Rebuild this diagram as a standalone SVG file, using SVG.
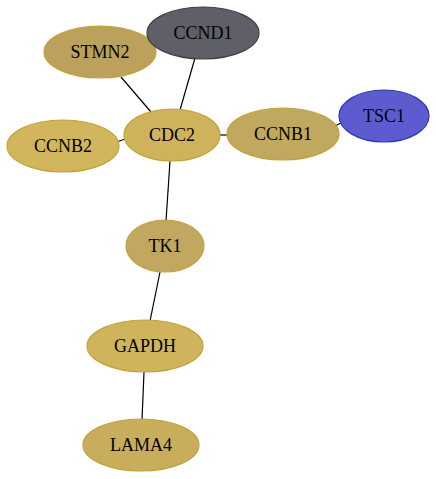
<svg xmlns="http://www.w3.org/2000/svg" width="436" height="479" viewBox="0 0 436 479">
<style>
.e line{stroke:#000;stroke-width:1.2}
.n ellipse{stroke-width:1.2}
.n text{font-family:"Liberation Serif","Times New Roman",serif;font-size:18px;text-anchor:middle;fill:#000}
.g ellipse{stroke:#c2a43a}
</style>
<rect width="436" height="479" fill="#fff"/>
<g id="edges" class="e">
<line x1="121" y1="77" x2="151" y2="112"/>
<line x1="195" y1="58" x2="180" y2="110"/>
<line x1="117" y1="142" x2="125" y2="139"/>
<line x1="219" y1="135" x2="228" y2="135"/>
<line x1="335" y1="126" x2="341" y2="123"/>
<line x1="170" y1="161" x2="166" y2="221"/>
<line x1="160" y1="272" x2="150" y2="321"/>
<line x1="144" y1="372" x2="142" y2="420"/>
</g>
<g id="STMN2" class="n g"><ellipse cx="100" cy="52" rx="56" ry="26" fill="#bba15c"/><text x="100" y="58">STMN2</text></g>
<g id="CCND1" class="n"><ellipse cx="203" cy="33" rx="56" ry="26" fill="#5f5f67" stroke="#3f3f46"/><text x="203" y="39">CCND1</text></g>
<g id="CCNB2" class="n g"><ellipse cx="63" cy="146" rx="56" ry="26" fill="#d2b65d"/><text x="63" y="152">CCNB2</text></g>
<g id="CDC2" class="n g"><ellipse cx="172" cy="135" rx="48" ry="26" fill="#cfb25c"/><text x="172" y="141">CDC2</text></g>
<g id="CCNB1" class="n g"><ellipse cx="283" cy="134" rx="56" ry="26" fill="#c1a85f"/><text x="283" y="140">CCNB1</text></g>
<g id="TSC1" class="n"><ellipse cx="384" cy="116" rx="45" ry="26" fill="#5c5ccf" stroke="#3434c0"/><text x="384" y="122">TSC1</text></g>
<g id="TK1" class="n g"><ellipse cx="165" cy="246" rx="39" ry="26" fill="#c1a75f"/><text x="165" y="252">TK1</text></g>
<g id="GAPDH" class="n g"><ellipse cx="145" cy="346" rx="58" ry="26" fill="#cfb35d"/><text x="145" y="352">GAPDH</text></g>
<g id="LAMA4" class="n g"><ellipse cx="141" cy="445" rx="58" ry="26" fill="#c8ad5d"/><text x="141" y="451">LAMA4</text></g>
</svg>
